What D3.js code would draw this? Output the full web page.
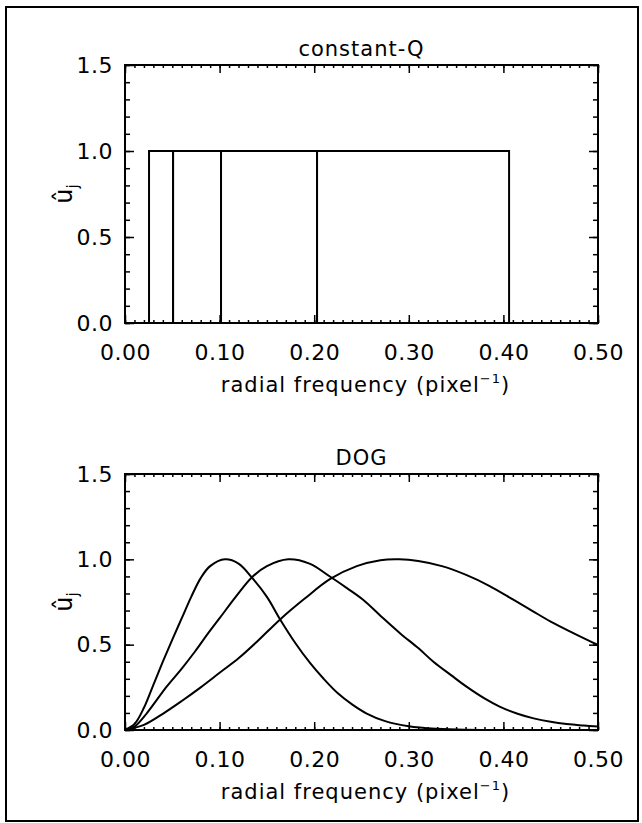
<!DOCTYPE html>
<html>
<head>
<meta charset="utf-8">
<script src="https://cdn.jsdelivr.net/npm/d3@7"></script>
<style>
  body { margin: 0; background: #fff; }
  text { font-family: "DejaVu Sans", sans-serif; fill: #000; }
</style>
</head>
<body>
<svg id="chart" width="642" height="823"></svg>
<script>
// constant-Q filter band edges (each band has height 1)
const cqEdges = [0.0254, 0.0508, 0.1015, 0.203, 0.406];
const cqHeights = [1, 1, 1, 1];

// DOG filter responses, [frequency, value]
const dog1 = [[0, 0], [0.01, 0.035], [0.02, 0.13], [0.03, 0.265], [0.04, 0.4],
  [0.05, 0.53], [0.06, 0.655], [0.07, 0.78], [0.08, 0.89], [0.09, 0.96],
  [0.1057, 1.0], [0.12, 0.975], [0.134, 0.894], [0.15, 0.78], [0.164, 0.648],
  [0.18, 0.51], [0.196, 0.39], [0.21, 0.3], [0.225, 0.215], [0.24, 0.15],
  [0.255, 0.098], [0.275, 0.052], [0.3, 0.022], [0.33, 0.007], [0.36, 0.001],
  [0.4, 0], [0.5, 0]];
const dog2 = [[0, 0], [0.01, 0.02], [0.023, 0.098], [0.044, 0.254], [0.06, 0.36],
  [0.074, 0.46], [0.087, 0.56], [0.1, 0.655], [0.117, 0.78], [0.134, 0.894],
  [0.15, 0.96], [0.1726, 1.0], [0.195, 0.975], [0.217, 0.898], [0.235, 0.83],
  [0.252, 0.762], [0.27, 0.67], [0.291, 0.566], [0.31, 0.48], [0.326, 0.40],
  [0.345, 0.32], [0.361, 0.254], [0.38, 0.185], [0.396, 0.137], [0.415, 0.095],
  [0.432, 0.068], [0.45, 0.048], [0.467, 0.035], [0.485, 0.026], [0.5, 0.02]];
const dog3 = [[0, 0], [0.02, 0.03], [0.04, 0.095], [0.06, 0.17], [0.08, 0.25],
  [0.1, 0.335], [0.12, 0.42], [0.14, 0.52], [0.164, 0.648], [0.19, 0.77],
  [0.217, 0.885], [0.245, 0.96], [0.27, 0.995], [0.29, 1.0], [0.31, 0.99],
  [0.335, 0.96], [0.36, 0.91], [0.385, 0.845], [0.41, 0.765], [0.43, 0.7],
  [0.45, 0.635], [0.475, 0.565], [0.5, 0.498]];

const xTicks = [0, 0.1, 0.2, 0.3, 0.4, 0.5];
const yTicks = [0, 0.5, 1.0, 1.5];
const xMinor = d3.range(0, 51).map(i => i / 100);
const yMinor = d3.range(0, 16).map(i => i / 10);

const svg = d3.select('#chart');

// outer frame
svg.append('rect')
  .attr('x', 6).attr('y', 7)
  .attr('width', 632).attr('height', 814)
  .attr('fill', 'none').attr('stroke', '#000').attr('stroke-width', 2);

const left = 125, right = 598;

function panel(top, bottom, title) {
  const x = d3.scaleLinear().domain([0, 0.5]).range([left, right]);
  const y = d3.scaleLinear().domain([0, 1.5]).range([bottom, top]);
  const g = svg.append('g');

  // minor ticks on all four sides
  g.append('g').attr('transform', `translate(0,${bottom})`)
    .call(d3.axisBottom(x).tickValues(xMinor).tickSize(-3).tickFormat(''));
  g.append('g').attr('transform', `translate(0,${top})`)
    .call(d3.axisTop(x).tickValues(xMinor).tickSize(-3).tickFormat(''));
  g.append('g').attr('transform', `translate(${left},0)`)
    .call(d3.axisLeft(y).tickValues(yMinor).tickSize(-5).tickFormat(''));
  g.append('g').attr('transform', `translate(${right},0)`)
    .call(d3.axisRight(y).tickValues(yMinor).tickSize(-5).tickFormat(''));

  // major ticks + labels
  g.append('g').attr('transform', `translate(0,${bottom})`)
    .call(d3.axisBottom(x).tickValues(xTicks).tickSize(-8).tickPadding(21)
      .tickFormat(d3.format('.2f')));
  g.append('g').attr('transform', `translate(0,${top})`)
    .call(d3.axisTop(x).tickValues(xTicks).tickSize(-8).tickFormat(''));
  g.append('g').attr('transform', `translate(${left},0)`)
    .call(d3.axisLeft(y).tickValues(yTicks).tickSize(-9).tickPadding(12)
      .tickFormat(d3.format('.1f')));
  g.append('g').attr('transform', `translate(${right},0)`)
    .call(d3.axisRight(y).tickValues(yTicks).tickSize(-9).tickFormat(''));

  g.selectAll('.domain').remove();
  g.selectAll('.tick line').attr('stroke', '#000').attr('stroke-width', 1.5);
  g.selectAll('.tick text').attr('font-size', 22).attr('letter-spacing', 0.5)
    .attr('font-family', '"DejaVu Sans", sans-serif');

  // box
  g.append('rect')
    .attr('x', left).attr('y', top)
    .attr('width', right - left).attr('height', bottom - top)
    .attr('fill', 'none').attr('stroke', '#000').attr('stroke-width', 2);

  // title
  g.append('text')
    .attr('x', (left + right) / 2).attr('y', top - 9)
    .attr('text-anchor', 'middle').attr('font-size', 21).attr('letter-spacing', 1)
    .text(title);

  // x label
  const xl = g.append('text')
    .attr('x', (left + right) / 2 + 4).attr('y', bottom + 69)
    .attr('text-anchor', 'middle').attr('font-size', 21).attr('letter-spacing', 1)
    .text('radial frequency (pixel');
  xl.append('tspan').attr('font-size', 13).attr('dy', -9).text('\u22121');
  xl.append('tspan').attr('dy', 9).text(')');

  // y label
  const yl = g.append('text')
    .attr('transform', `translate(72,${(top + bottom) / 2}) rotate(-90)`)
    .attr('text-anchor', 'middle').attr('font-size', 24)
    .text('\u00fb');
  yl.append('tspan').attr('font-size', 15).attr('dy', 6).text('j');

  return { x, y, g };
}

// top: constant-Q
const p1 = panel(65, 323, 'constant-Q');
const bands = d3.range(cqHeights.length).map(i => ({ x0: cqEdges[i], x1: cqEdges[i + 1], h: cqHeights[i] }));
p1.g.append('g').selectAll('rect')
  .data(bands)
  .join('rect')
  .attr('x', d => p1.x(d.x0))
  .attr('y', d => p1.y(d.h))
  .attr('width', d => p1.x(d.x1) - p1.x(d.x0))
  .attr('height', d => p1.y(0) - p1.y(d.h))
  .attr('fill', 'none').attr('stroke', '#000').attr('stroke-width', 2);

// bottom: DOG
const p2 = panel(474, 730, 'DOG');
const line = d3.line()
  .x(d => p2.x(d[0]))
  .y(d => p2.y(d[1]))
  .curve(d3.curveCatmullRom.alpha(0.5));
p2.g.append('g').selectAll('path')
  .data([dog1, dog2, dog3])
  .join('path')
  .attr('d', line)
  .attr('fill', 'none').attr('stroke', '#000').attr('stroke-width', 2);
</script>
</body>
</html>
